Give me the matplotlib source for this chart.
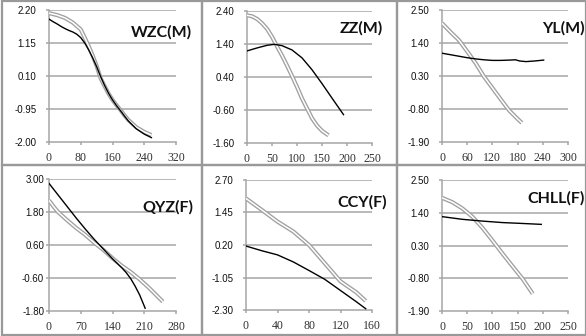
import matplotlib.pyplot as plt
from matplotlib.patches import Rectangle

W, H = 586, 336

titles = ['WZC(M)', 'ZZ(M)', 'YL(M)', 'QYZ(F)', 'CCY(F)', 'CHLL(F)']

# gray (double line) series
wzc_gx = [0, 20, 40, 60, 80, 90, 100, 110, 120, 130, 140, 150, 160, 170, 180, 190, 200, 220, 240, 258]
wzc_gy = [2.10, 2.04, 1.95, 1.80, 1.58, 1.32, 1.05, 0.75, 0.42, 0.03, -0.22, -0.46, -0.66, -0.83, -0.98, -1.15, -1.30, -1.53, -1.68, -1.78]
wzc_bx = [0, 10, 20, 30, 40, 50, 60, 70, 80, 90, 100, 110, 120, 130, 140, 150, 160, 170, 180, 190, 200, 220, 240, 258]
wzc_by = [1.91, 1.83, 1.76, 1.68, 1.61, 1.55, 1.50, 1.43, 1.32, 1.15, 0.93, 0.68, 0.40, 0.08, -0.20, -0.45, -0.66, -0.84, -1.00, -1.17, -1.33, -1.58, -1.75, -1.86]

zz_gx = [0, 10, 20, 30, 40, 50, 60, 70, 80, 90, 100, 110, 120, 130, 140, 150, 163]
zz_gy = [2.27, 2.24, 2.16, 2.03, 1.86, 1.62, 1.33, 1.05, 0.75, 0.43, 0.10, -0.25, -0.55, -0.85, -1.07, -1.23, -1.37]
zz_bx = [0, 20, 40, 55, 70, 90, 110, 130, 150, 170, 193]
zz_by = [1.19, 1.28, 1.36, 1.39, 1.35, 1.22, 0.98, 0.62, 0.20, -0.24, -0.74]

yl_gx = [0, 20, 40, 60, 80, 100, 120, 140, 160, 180, 190]
yl_gy = [2.06, 1.77, 1.50, 1.12, 0.73, 0.28, -0.10, -0.48, -0.85, -1.13, -1.26]
yl_bx = [0, 20, 40, 60, 80, 100, 120, 140, 160, 175, 185, 200, 220, 242]
yl_by = [1.06, 1.01, 0.96, 0.91, 0.87, 0.84, 0.82, 0.82, 0.83, 0.84, 0.80, 0.78, 0.80, 0.83]

qyz_gx = [0, 10, 20, 40, 60, 80, 100, 120, 140, 160, 180, 200, 220, 240, 251]
qyz_gy = [2.22, 2.00, 1.80, 1.50, 1.22, 0.97, 0.68, 0.42, 0.12, -0.15, -0.38, -0.65, -0.95, -1.28, -1.46]
qyz_bx = [0, 20, 40, 60, 80, 100, 120, 140, 160, 170, 180, 190, 200, 212]
qyz_by = [2.84, 2.42, 2.00, 1.58, 1.18, 0.80, 0.45, 0.10, -0.22, -0.40, -0.62, -0.90, -1.22, -1.70]

ccy_gx = [0, 20, 40, 60, 80, 100, 120, 140, 152]
ccy_gy = [1.99, 1.55, 1.10, 0.72, 0.20, -0.50, -1.20, -1.62, -1.95]
ccy_bx = [0, 20, 40, 60, 80, 100, 120, 140, 152]
ccy_by = [0.16, -0.02, -0.18, -0.45, -0.78, -1.12, -1.55, -1.98, -2.25]

chll_gx = [0, 20, 40, 60, 80, 100, 120, 140, 160, 180]
chll_gy = [1.90, 1.76, 1.55, 1.27, 0.90, 0.47, 0.03, -0.40, -0.82, -1.32]
chll_bx = [0, 40, 80, 120, 160, 197]
chll_by = [1.27, 1.18, 1.12, 1.07, 1.04, 1.01]

gray_x = [wzc_gx, zz_gx, yl_gx, qyz_gx, ccy_gx, chll_gx]
gray_y = [wzc_gy, zz_gy, yl_gy, qyz_gy, ccy_gy, chll_gy]
black_x = [wzc_bx, zz_bx, yl_bx, qyz_bx, ccy_bx, chll_bx]
black_y = [wzc_by, zz_by, yl_by, qyz_by, ccy_by, chll_by]

y_ticks = [[2.20, 1.15, 0.10, -0.95, -2.00],
           [2.40, 1.40, 0.40, -0.60, -1.60],
           [2.50, 1.40, 0.30, -0.80, -1.90],
           [3.00, 1.80, 0.60, -0.60, -1.80],
           [2.70, 1.45, 0.20, -1.05, -2.30],
           [2.50, 1.40, 0.30, -0.80, -1.90]]
x_ticks = [[0, 80, 160, 240, 320],
           [0, 50, 100, 150, 200, 250],
           [0, 60, 120, 180, 240, 300],
           [0, 70, 140, 210, 280],
           [0, 40, 80, 120, 160],
           [0, 50, 100, 150, 200, 250]]

# axes boxes in pixels (left, top, right, bottom)
boxes = [(49, 10, 176, 142), (247, 11, 372, 143), (442, 10, 568, 142),
         (49, 179, 176, 311), (246, 180, 372, 310), (442, 180, 568, 311)]
# title anchor (right x, center y) in pixels
title_pos = [(192, 32), (383, 28), (585, 28), (193, 207), (387, 202), (585, 198)]
# gap between y labels and axis (points)
ypads = [6.5, 6.5, 6.5, 1, 6.5, 6.5]

grid_c = '#a6a6a6'
line_gray = '#a0a0a0'

fig = plt.figure(figsize=(W / 100, H / 100), dpi=100)

# panel frames
for (x0, x1) in [(2, 202), (202, 397), (397, 586)]:
    for (y0, y1) in [(1, 165), (165, 335)]:
        fig.patches.append(Rectangle((x0 / W, 1 - y1 / H), (x1 - x0) / W, (y1 - y0) / H,
                                     transform=fig.transFigure, fill=False,
                                     edgecolor='#999999', linewidth=1.6))

for i in range(6):
    l, t, r, b = boxes[i]
    ax = fig.add_axes([l / W, 1 - b / H, (r - l) / W, (b - t) / H])
    xt, yt = x_ticks[i], y_ticks[i]
    for v in yt[:-1]:
        ax.axhline(v, color=grid_c, linewidth=1.1, zorder=1)
    ax.plot(gray_x[i], gray_y[i], color=line_gray, linewidth=3.0, zorder=2,
            solid_capstyle='butt')
    ax.plot(gray_x[i], gray_y[i], color='white', linewidth=1.1, zorder=3,
            solid_capstyle='butt')
    ax.plot(black_x[i], black_y[i], color='black', linewidth=1.0, zorder=4)
    ax.set_xlim(xt[0], xt[-1])
    ax.set_ylim(yt[-1], yt[0])
    ax.set_xticks(xt, [str(v) for v in xt])
    ax.set_yticks(yt, ['%.2f' % v for v in yt])
    for s in ['top', 'right']:
        ax.spines[s].set_visible(False)
    for s in ['left', 'bottom']:
        ax.spines[s].set_color(grid_c)
        ax.spines[s].set_linewidth(1.1)
    ax.tick_params(axis='both', color=grid_c, length=2.5, width=1.1)
    ax.tick_params(axis='y', labelfontfamily='Liberation Sans', labelsize=7,
                   labelcolor='#111111', pad=ypads[i])
    ax.tick_params(axis='x', labelfontfamily='Liberation Serif', labelsize=8.6,
                   labelcolor='#333333', pad=4.5)
    ax.set_facecolor('none')
    tx, ty = title_pos[i]
    fig.text(tx / W, 1 - ty / H, titles[i], ha='right', va='center',
             family='Lato', fontweight='bold', fontsize=11.5, color='#111111')

fig.savefig('out.png', dpi=100)
